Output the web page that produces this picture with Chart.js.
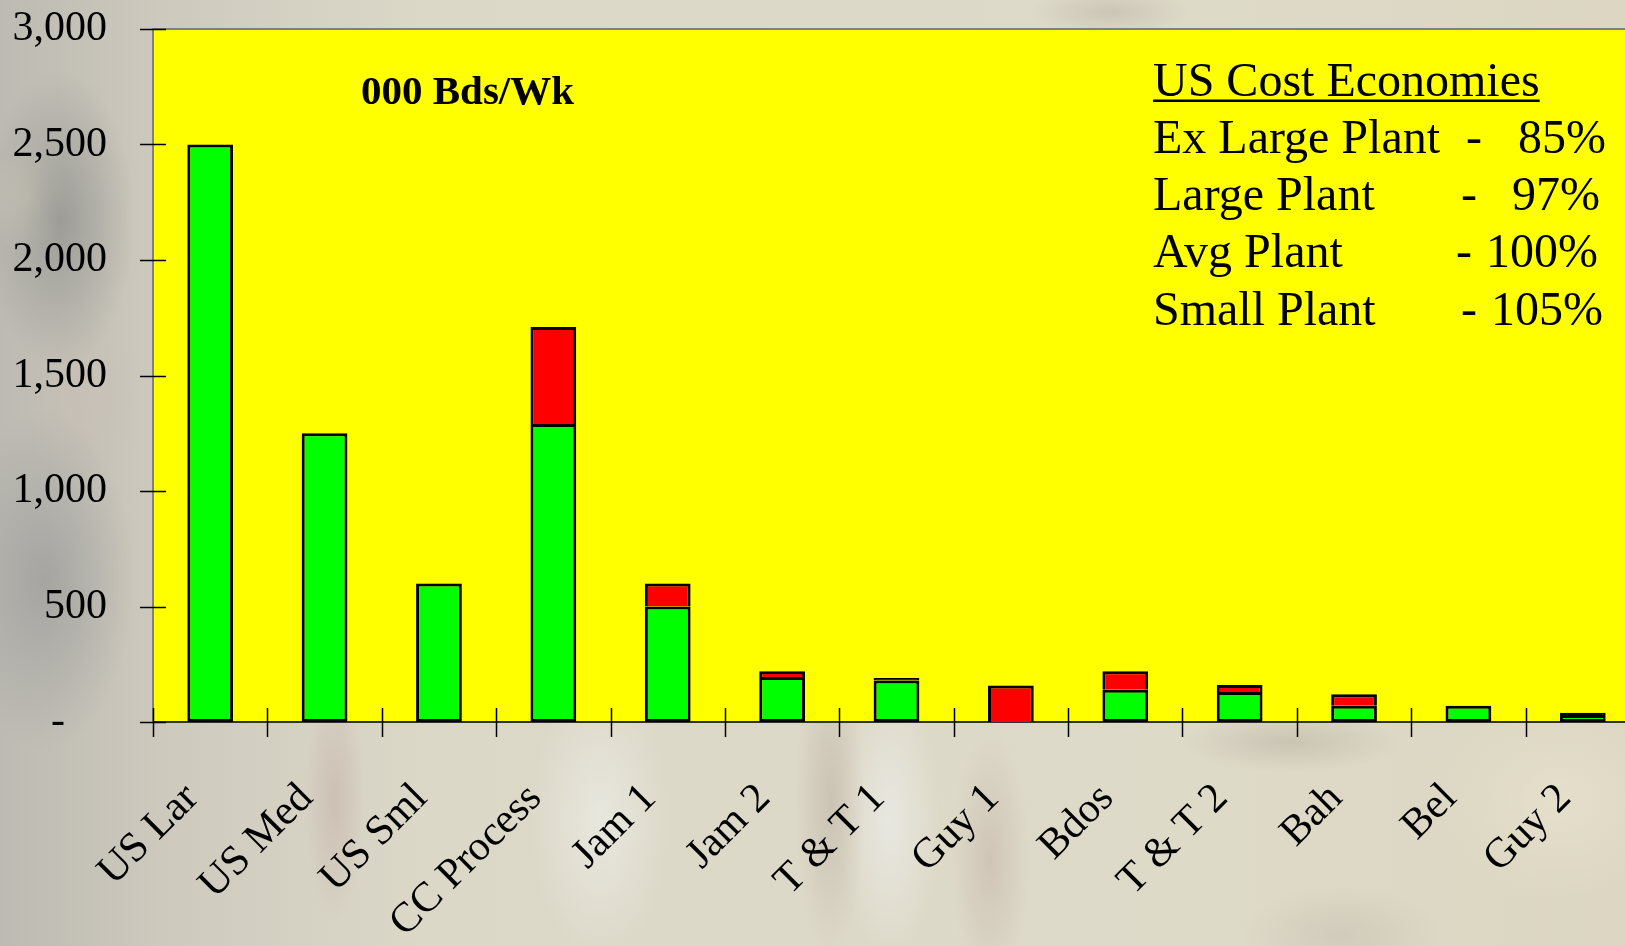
<!DOCTYPE html>
<html>
<head>
<meta charset="utf-8">
<script src="https://cdn.jsdelivr.net/npm/chart.js@4.4.0/dist/chart.umd.min.js"></script>
<style>
    html, body { margin: 0; padding: 0; width: 1625px; height: 946px; overflow: hidden; }
    body {
        background:
            radial-gradient(ellipse 75px 150px at 60px 220px, rgba(150,150,146,0.85), rgba(150,150,146,0) 100%),
            radial-gradient(ellipse 40px 60px at 30px 200px, rgba(226,220,200,0.7), rgba(226,220,200,0) 100%),
            radial-gradient(ellipse 90px 170px at 45px 580px, rgba(160,160,158,0.85), rgba(160,160,158,0) 100%),
            radial-gradient(ellipse 60px 90px at 80px 400px, rgba(200,190,180,0.6), rgba(200,190,180,0) 100%),
            radial-gradient(ellipse 80px 25px at 1110px 12px, rgba(180,172,158,0.45), rgba(180,172,158,0) 100%),
            radial-gradient(ellipse 30px 120px at 335px 800px, rgba(195,175,165,0.55), rgba(195,175,165,0) 100%),
            radial-gradient(ellipse 35px 160px at 830px 800px, rgba(185,172,160,0.5), rgba(185,172,160,0) 100%),
            radial-gradient(ellipse 40px 130px at 990px 860px, rgba(190,172,160,0.45), rgba(190,172,160,0) 100%),
            radial-gradient(ellipse 110px 30px at 1290px 742px, rgba(178,170,155,0.45), rgba(178,170,155,0) 100%),
            radial-gradient(ellipse 100px 50px at 1340px 935px, rgba(185,178,165,0.35), rgba(185,178,165,0) 100%),
            radial-gradient(ellipse 70px 140px at 600px 820px, rgba(236,236,230,0.75), rgba(236,236,230,0) 100%),
            radial-gradient(ellipse 50px 140px at 890px 820px, rgba(236,236,232,0.75), rgba(236,236,232,0) 100%),
            radial-gradient(ellipse 120px 100px at 1560px 800px, rgba(232,226,206,0.7), rgba(232,226,206,0) 100%),
            linear-gradient(90deg, #bcbab2 0px, #cdc9bd 160px, #dcd8c8 420px, #dedac8 1200px, #dcd6c2 1625px);
    }
    #wrap { position: relative; width: 1660px; height: 946px; }
</style>
</head>
<body>
<div id="wrap"><canvas id="graficoPlantas"></canvas></div>
<script>
// plants and weekly volumes (000 boards/week)
const categories = ['US Lar', 'US Med', 'US Sml', 'CC Process', 'Jam 1', 'Jam 2', 'T & T 1',
    'Guy 1', 'Bdos', 'T & T 2', 'Bah', 'Bel', 'Guy 2'];
const greenValues = [2500, 1250, 600, 1290, 500, 195, 180, null, 140, 130, 70, 70, 30];
const redValues = [null, null, null, 420, 100, 25, 10, 158, 80, 30, 50, null, 10];
const yTicks = [0, 500, 1000, 1500, 2000, 2500, 3000];

const unitLabel = '000 Bds/Wk';
const economiesTitle = 'US Cost Economies';
const plantSizes = ['Ex Large Plant', 'Large Plant', 'Avg Plant', 'Small Plant'];
const costPercents = ['85%', '97%', '100%', '105%'];

const SERIF = '"Liberation Serif", "Times New Roman", serif';

// yellow plot area + the cross ticks and the text blocks
const plotDecor = {
    id: 'plotDecor',
    beforeDraw(chart) {
        const { ctx, chartArea: a } = chart;
        ctx.save();
        ctx.fillStyle = '#ffff00';
        ctx.fillRect(a.left, a.top, a.right - a.left, a.bottom - a.top);
        ctx.strokeStyle = '#808080';
        ctx.lineWidth = 2;
        ctx.beginPath();
        ctx.moveTo(a.left, a.top);
        ctx.lineTo(a.right, a.top);
        ctx.stroke();
        ctx.restore();
    },
    afterDraw(chart) {
        const { ctx, chartArea: a } = chart;
        const y = chart.scales.y;
        ctx.save();
        ctx.strokeStyle = '#000';
        ctx.lineWidth = 1.5;
        ctx.beginPath();
        const step = (a.right - a.left) / categories.length;
        for (let i = 0; i <= categories.length; i++) {
            const px = Math.round(a.left + i * step) + 0.5;
            ctx.moveTo(px, a.bottom - 14);
            ctx.lineTo(px, a.bottom + 15);
        }
        yTicks.forEach(v => {
            const py = Math.round(y.getPixelForValue(v)) + 0.5;
            ctx.moveTo(a.left - 13, py);
            ctx.lineTo(a.left + 13, py);
        });
        ctx.stroke();

        ctx.fillStyle = '#000';
        ctx.textBaseline = 'alphabetic';
        ctx.textAlign = 'left';
        ctx.font = 'bold 41px ' + SERIF;
        ctx.fillText(unitLabel, 361, 104);

        ctx.font = '48px ' + SERIF;
        ctx.fillText(economiesTitle, 1153, 96);
        const w = ctx.measureText(economiesTitle).width;
        ctx.fillRect(1153, 99.5, w, 2.5);

        const baselines = [153, 210, 267, 325];
        const dashX = [1466, 1461, 1456, 1461];
        const pctX = [1518, 1512, 1486, 1491];
        plantSizes.forEach((name, i) => {
            ctx.fillText(name, 1153, baselines[i]);
            ctx.fillText('-', dashX[i], baselines[i]);
            ctx.fillText(costPercents[i], pctX[i], baselines[i]);
        });
        ctx.restore();
    }
};

const ctx = document.getElementById('graficoPlantas').getContext('2d');

const graficoPlantas = new Chart(ctx, {
    type: 'bar',
    data: {
        labels: categories,
        datasets: [{
            label: 'Green',
            data: greenValues,
            backgroundColor: '#00ff00',
            borderColor: '#000',
            borderWidth: 3,
            borderSkipped: false,
            barPercentage: 0.4,
            categoryPercentage: 1
        }, {
            label: 'Red',
            data: redValues,
            // very thin slivers disappear under the outline
            backgroundColor: function (context) {
                return context.raw !== null && context.raw < 15 ? '#000' : '#ff0000';
            },
            borderColor: '#000',
            borderWidth: { top: 3, left: 3, right: 3, bottom: 0 },
            borderSkipped: false,
            barPercentage: 0.4,
            categoryPercentage: 1
        }]
    },
    options: {
        responsive: true,
        maintainAspectRatio: false,
        animation: false,
        layout: {
            padding: { top: 29, right: 20, left: 0, bottom: 0 }
        },
        plugins: {
            legend: { display: false },
            tooltip: { enabled: false }
        },
        scales: {
            x: {
                stacked: true,
                grid: { display: false, drawTicks: false },
                border: { color: '#333', width: 2 },
                afterFit: function (scale) {
                    scale.height = 224;
                    scale.paddingLeft = 0;
                    scale.paddingRight = 0;
                },
                ticks: {
                    autoSkip: false,
                    maxRotation: 45,
                    minRotation: 45,
                    padding: 52,
                    labelOffset: -18,
                    color: '#000',
                    font: { family: SERIF, size: 42 }
                }
            },
            y: {
                stacked: true,
                min: 0,
                max: 3000,
                afterFit: function (scale) {
                    scale.width = 153;
                    // labels sit well inside the top edge, no extra room needed
                    scale.paddingTop = 0;
                    scale.paddingBottom = 0;
                },
                afterBuildTicks: function (scale) {
                    scale.ticks = yTicks.map(v => ({ value: v }));
                },
                grid: { display: false, drawTicks: false },
                border: { color: '#808080', width: 2 },
                ticks: {
                    padding: 46,
                    color: '#000',
                    font: { family: SERIF, size: 42 },
                    callback: function (value) {
                        if (value === 0) return '-    ';
                        return value.toLocaleString('en-US');
                    }
                }
            }
        }
    },
    plugins: [plotDecor]
});
</script>
</body>
</html>
